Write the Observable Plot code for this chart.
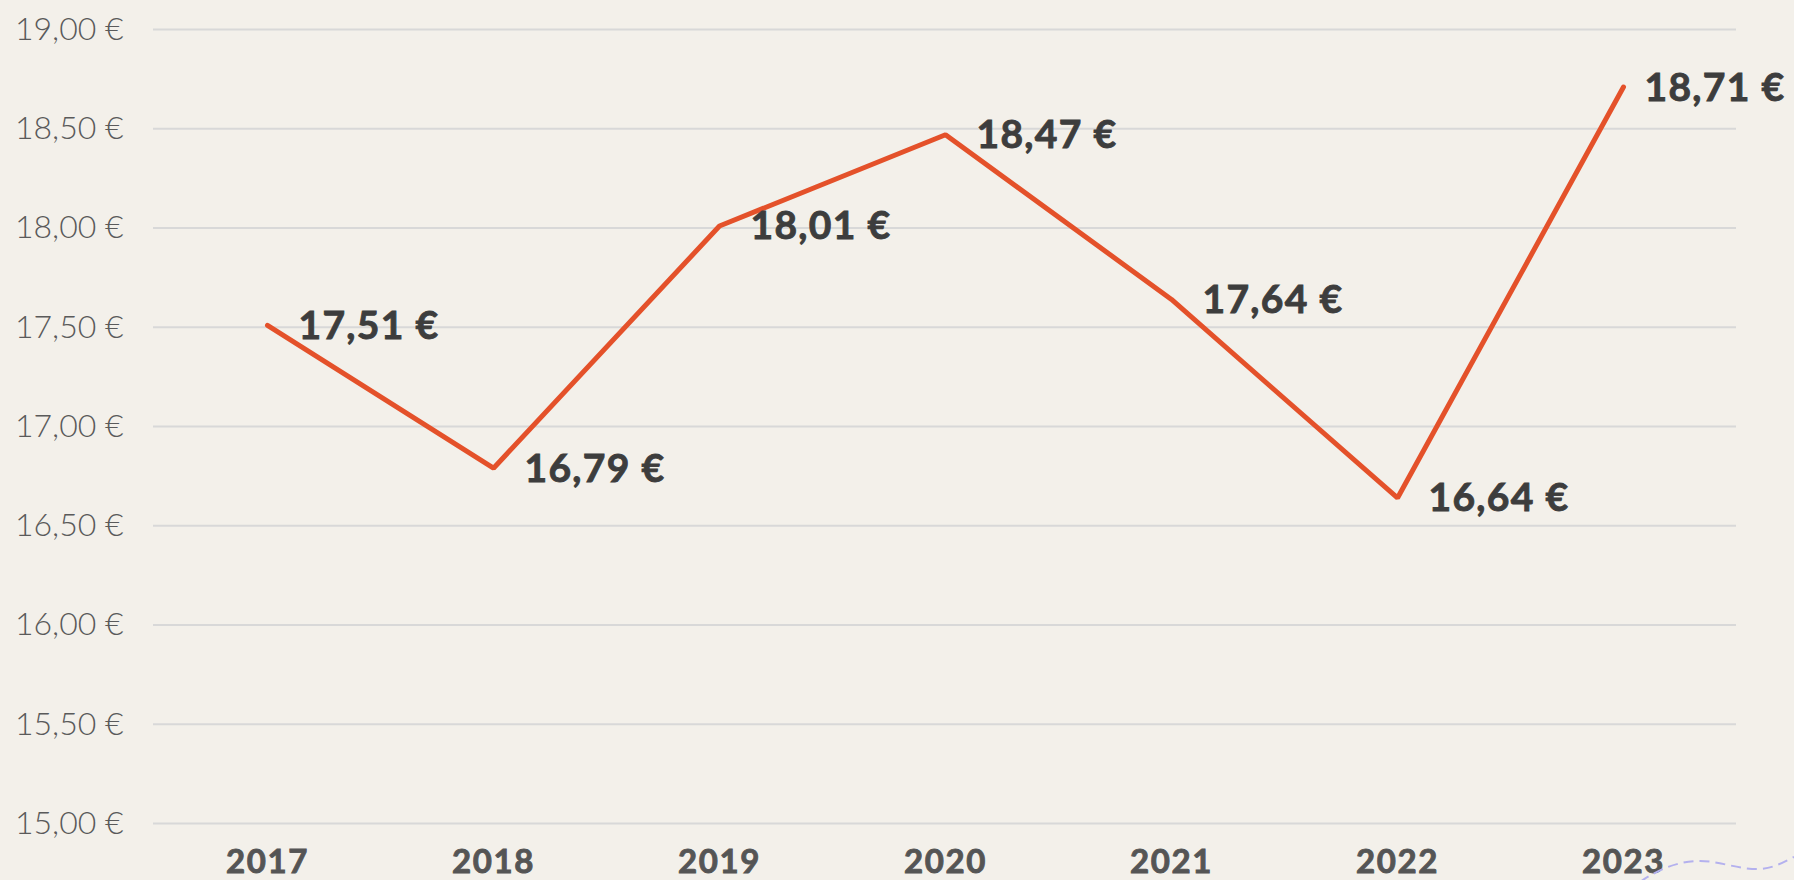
<!DOCTYPE html>
<html>
<head>
<meta charset="utf-8">
<script src="https://cdn.jsdelivr.net/npm/d3@7"></script>
<script src="https://cdn.jsdelivr.net/npm/@observablehq/plot@0.6"></script>
<style>
  html, body { margin: 0; padding: 0; background: #f3f0ea; overflow: hidden; }
  #wrap { position: relative; width: 1794px; height: 880px; }
  #deco { position: absolute; left: 0; top: 0; pointer-events: none; }
  g[aria-label="x-axis tick label"] text { letter-spacing: 1.6px; stroke: #555555; stroke-width: 0.9px; }
  g[aria-label="text"] text { letter-spacing: 1.3px; stroke: #3d3d3d; stroke-width: 0.9px; }
</style>
</head>
<body>
<div id="wrap"></div>
<script>
const years = ["2017", "2018", "2019", "2020", "2021", "2022", "2023"];
const prices = [17.51, 16.79, 18.01, 18.47, 17.64, 16.64, 18.71];
const yTicks = [15, 15.5, 16, 16.5, 17, 17.5, 18, 18.5, 19];

const data = years.map((year, i) => ({year, price: prices[i]}));

const locale = d3.formatLocale({decimal: ",", thousands: ".", grouping: [3], currency: ["", " €"]});
const euro = locale.format(",.2f");
const fmt = v => euro(v) + " €";

const lineColor = "#e4512a";
const labelColor = "#3d3d3d";
const tickColor = "#5a5a5a";

const chart = Plot.plot({
  width: 1794,
  height: 880,
  marginTop: 29,
  marginBottom: 57,
  marginLeft: 153,
  marginRight: 58,
  style: {background: "#f3f0ea", fontFamily: "Lato, 'Noto Sans', sans-serif", overflow: "visible"},
  x: {type: "point", domain: years, padding: 0.5},
  y: {domain: [15, 19]},
  marks: [
    Plot.gridY(yTicks, {stroke: "#d8d8d8", strokeOpacity: 1, strokeWidth: 2}),
    Plot.axisY(yTicks, {tickSize: 0, tickPadding: 30, fontSize: 32, fontWeight: 300, fill: tickColor, tickFormat: fmt, label: null}),
    Plot.axisX({tickSize: 0, tickPadding: 26, fontSize: 33, fontWeight: 700, fill: "#555555", label: null}),
    Plot.line(data, {x: "year", y: "price", stroke: lineColor, strokeWidth: 5, strokeLinecap: "round", strokeLinejoin: "miter"}),
    Plot.text(data.slice(0, -1), {x: "year", y: "price", text: d => fmt(d.price), dx: 31, dy: 1, textAnchor: "start", fontSize: 39, fontWeight: 700, fill: labelColor}),
    Plot.text(data.slice(-1), {x: "year", y: "price", text: d => fmt(d.price), dx: 21, dy: 1, textAnchor: "start", fontSize: 39, fontWeight: 700, fill: labelColor})
  ]
});

const wrap = document.getElementById("wrap");
wrap.appendChild(chart);

// decorative dashed wave in the lower right corner
const ns = "http://www.w3.org/2000/svg";
const deco = document.createElementNS(ns, "svg");
deco.setAttribute("id", "deco");
deco.setAttribute("width", 1794);
deco.setAttribute("height", 880);
const p = document.createElementNS(ns, "path");
p.setAttribute("d", "M1640,882 C1660,868 1680,861 1700,861 C1720,861 1740,870 1760,869 C1775,868 1785,861 1794,857");
p.setAttribute("fill", "none");
p.setAttribute("stroke", "#b4b1ee");
p.setAttribute("stroke-width", 2);
p.setAttribute("stroke-dasharray", "10 6");
deco.appendChild(p);
wrap.appendChild(deco);
</script>
</body>
</html>
